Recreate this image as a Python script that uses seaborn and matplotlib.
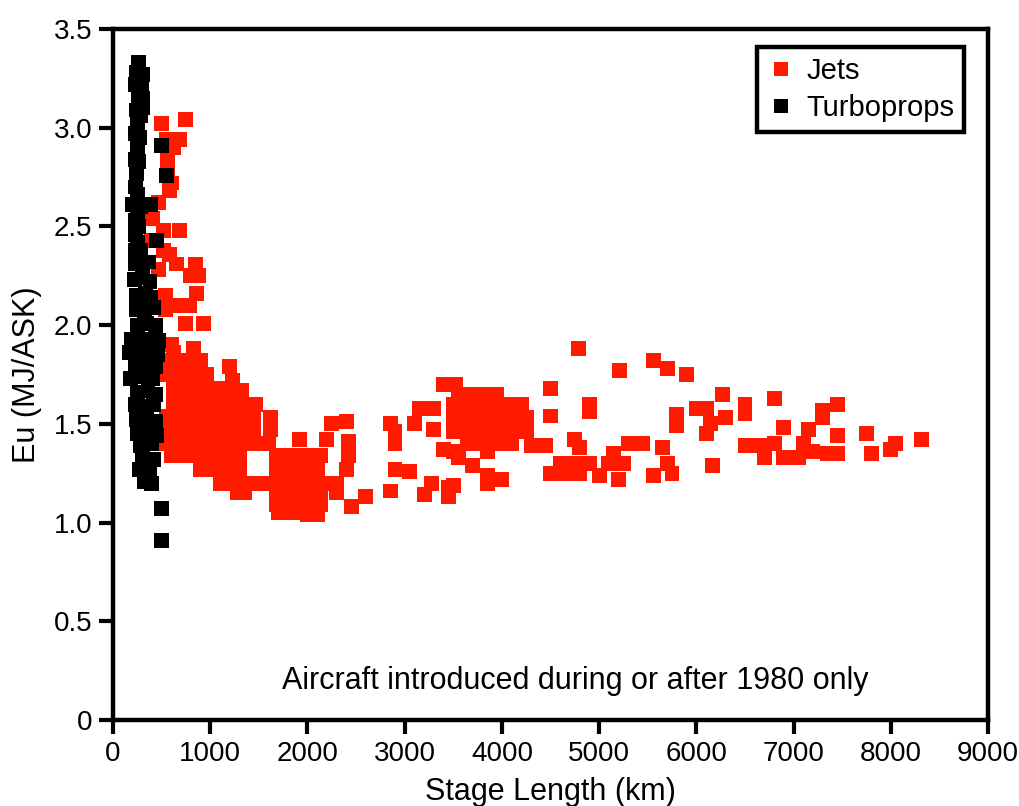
import numpy as np
import pandas as pd
import matplotlib
matplotlib.use("Agg")
import matplotlib.pyplot as plt
import seaborn as sns
from matplotlib.ticker import FuncFormatter

# Stage length (km) / energy intensity (MJ/ASK)
jets_pts = [
    # short-haul tail
    (750, 3.04), (495, 3.02), (546, 2.94), (680, 2.94), (620, 2.90), (560, 2.84),
    (560, 2.79), (600, 2.72), (580, 2.68), (470, 2.62), (410, 2.54), (520, 2.48),
    (680, 2.48), (400, 2.43), (520, 2.38), (580, 2.36), (470, 2.28), (650, 2.31),
    (850, 2.31), (800, 2.25), (880, 2.25), (540, 2.15), (860, 2.16), (540, 2.08),
    (640, 2.10), (790, 2.10), (750, 2.01), (930, 2.01), (600, 1.90), (620, 1.86),
    (830, 1.88),
    # dense block 500-2600 km
    (500, 1.82), (640, 1.82), (780, 1.82), (900, 1.82), (1200, 1.79),
    (550, 1.75), (700, 1.75), (850, 1.75), (960, 1.75), (1230, 1.72),
    (620, 1.68), (760, 1.68), (900, 1.68), (1040, 1.68), (1180, 1.68), (1320, 1.67),
    (620, 1.61), (760, 1.61), (900, 1.61), (1040, 1.61), (1180, 1.61), (1320, 1.61), (1470, 1.60),
    (550, 1.54), (700, 1.54), (850, 1.54), (1000, 1.54), (1150, 1.54), (1300, 1.54), (1450, 1.54), (1620, 1.53),
    (550, 1.47), (700, 1.47), (850, 1.47), (1000, 1.47), (1150, 1.47), (1300, 1.47), (1450, 1.47), (1620, 1.47),
    (2250, 1.50), (2400, 1.51), (1920, 1.42), (2200, 1.42), (2420, 1.41),
    (550, 1.40), (700, 1.40), (850, 1.40), (1000, 1.40), (1150, 1.40), (1300, 1.40), (1450, 1.40), (1600, 1.40),
    (600, 1.34), (750, 1.34), (900, 1.34), (1050, 1.34), (1200, 1.34), (1300, 1.34),
    (1680, 1.34), (1830, 1.34), (1980, 1.34), (2130, 1.34), (2420, 1.34),
    (900, 1.27), (1050, 1.27), (1200, 1.27), (1300, 1.27), (1680, 1.27), (1830, 1.27),
    (1980, 1.27), (2100, 1.27), (2400, 1.27),
    (1100, 1.20), (1250, 1.20), (1400, 1.20), (1550, 1.20), (1700, 1.20), (1850, 1.20),
    (2000, 1.20), (2150, 1.20), (2300, 1.20),
    (1280, 1.15), (1350, 1.15), (1680, 1.14), (1830, 1.14), (1980, 1.14), (2130, 1.14),
    (2300, 1.15), (2600, 1.13),
    (1680, 1.09), (1830, 1.09), (1980, 1.09), (2130, 1.09), (2450, 1.08),
    (1700, 1.05), (1850, 1.05), (2000, 1.04), (2100, 1.04),
    # 2800-4500 km
    (2850, 1.50), (2900, 1.46), (3100, 1.50), (3300, 1.47), (2900, 1.40), (2900, 1.27),
    (3050, 1.26), (2850, 1.16), (3200, 1.14), (3280, 1.20), (3450, 1.18), (3450, 1.13),
    (3150, 1.58), (3300, 1.58), (3400, 1.70), (3520, 1.70),
    (3550, 1.65), (3700, 1.65), (3850, 1.65), (3950, 1.65),
    (3500, 1.60), (3650, 1.60), (3800, 1.60), (3950, 1.60), (4100, 1.60), (4200, 1.60),
    (3500, 1.53), (3650, 1.53), (3800, 1.53), (3950, 1.53), (4100, 1.53), (4250, 1.53),
    (3500, 1.46), (3650, 1.46), (3800, 1.46), (3950, 1.46), (4100, 1.46), (4250, 1.46),
    (3650, 1.40), (3800, 1.40), (3950, 1.40), (4100, 1.40), (4300, 1.39), (4450, 1.39),
    (3500, 1.36), (3850, 1.36), (3700, 1.29), (3850, 1.24), (4000, 1.22), (3850, 1.20),
    (3500, 1.19), (3550, 1.33), (3400, 1.37),
    # long haul
    (4790, 1.88), (5560, 1.82), (5700, 1.78), (5210, 1.77), (5900, 1.75), (4500, 1.68),
    (6270, 1.65), (6000, 1.58), (6100, 1.58), (6500, 1.60), (6500, 1.55), (6800, 1.63),
    (7300, 1.57), (7450, 1.60), (7300, 1.53), (4900, 1.60), (4900, 1.56), (4500, 1.54),
    (5800, 1.55), (5800, 1.49), (6150, 1.50), (6300, 1.53), (6100, 1.45),
    (4750, 1.42), (4800, 1.38), (4600, 1.30), (4750, 1.30), (4900, 1.30),
    (4500, 1.25), (4650, 1.25), (4800, 1.25), (5000, 1.24), (5200, 1.22),
    (5150, 1.35), (5300, 1.40), (5450, 1.40), (5650, 1.38), (5100, 1.30), (5250, 1.30),
    (5700, 1.30), (5750, 1.25), (5560, 1.24), (6170, 1.29),
    (6500, 1.39), (6650, 1.39), (6800, 1.40), (6700, 1.33), (6900, 1.48), (6900, 1.33),
    (7050, 1.33), (7100, 1.40), (7200, 1.36), (7150, 1.47), (7350, 1.35), (7450, 1.35),
    (7450, 1.44), (7750, 1.45), (7800, 1.35), (8050, 1.40), (8000, 1.37), (8320, 1.42),
]

turbo_pts = [
    (260, 3.33), (240, 3.28), (300, 3.27), (230, 3.22), (290, 3.21), (260, 3.16),
    (300, 3.15), (240, 3.09), (300, 3.10), (280, 3.06), (250, 3.02), (230, 2.97),
    (270, 2.95), (250, 2.90), (230, 2.84), (260, 2.83), (240, 2.77), (500, 2.91),
    (550, 2.76), (230, 2.70), (250, 2.66), (200, 2.61), (280, 2.60), (390, 2.61),
    (250, 2.57), (230, 2.53), (260, 2.50), (230, 2.46), (450, 2.43), (250, 2.42),
    (230, 2.38), (280, 2.38), (230, 2.31), (300, 2.30), (370, 2.32), (220, 2.23),
    (300, 2.24), (380, 2.22), (240, 2.15), (330, 2.16), (390, 2.14), (240, 2.08),
    (320, 2.07), (420, 2.09), (250, 2.00), (350, 2.01), (440, 2.00), (190, 1.93),
    (290, 1.92), (390, 1.93), (470, 1.92), (170, 1.86), (260, 1.87), (360, 1.86),
    (460, 1.85), (230, 1.80), (330, 1.80), (440, 1.79), (180, 1.73), (280, 1.74),
    (410, 1.73), (250, 1.66), (360, 1.67), (440, 1.65), (230, 1.60), (330, 1.59),
    (420, 1.60), (240, 1.52), (340, 1.52), (440, 1.51), (250, 1.45), (370, 1.46),
    (450, 1.44), (280, 1.39), (400, 1.40), (300, 1.33), (420, 1.32), (270, 1.27),
    (380, 1.26), (320, 1.21), (400, 1.20), (500, 1.07), (500, 0.91),
]

x_ticks = [0, 1000, 2000, 3000, 4000, 5000, 6000, 7000, 8000, 9000]
y_ticks = [0, 0.5, 1.0, 1.5, 2.0, 2.5, 3.0, 3.5]

jets = pd.DataFrame(jets_pts, columns=["km", "eu"])
jets["type"] = "Jets"
turbo = pd.DataFrame(turbo_pts, columns=["km", "eu"])
turbo["type"] = "Turboprops"
df = pd.concat([jets, turbo], ignore_index=True)

sns.set_style("white")
plt.rcParams["font.family"] = ["Liberation Sans", "DejaVu Sans"]
plt.rcParams["text.color"] = "black"
plt.rcParams["axes.labelcolor"] = "black"

fig = plt.figure(figsize=(10.19, 8.06), dpi=100)
ax = fig.add_axes([0.1109, 0.1067, 0.8587, 0.8573])

sns.scatterplot(data=df, x="km", y="eu", hue="type",
                palette={"Jets": "#ff1a00", "Turboprops": "black"},
                marker="s", s=115, linewidth=0, ax=ax)

ax.set_xlim(0, 9000)
ax.set_ylim(0, 3.5)
ax.set_xticks(x_ticks)
ax.set_yticks(y_ticks)
ax.yaxis.set_major_formatter(FuncFormatter(lambda v, p: "0" if v == 0 else f"{v:.1f}"))
ax.tick_params(bottom=True, left=True, direction="out", length=10, width=3,
               labelsize=20, colors="black", pad=5)

for sp in ax.spines.values():
    sp.set_linewidth(3.2)
    sp.set_color("black")

ax.set_xlabel("Stage Length (km)", fontsize=22, labelpad=7)
ax.set_ylabel("Eu (MJ/ASK)", fontsize=22, labelpad=8)

ax.text(4750, 0.2, "Aircraft introduced during or after 1980 only",
        ha="center", va="center", fontsize=22)

leg = ax.legend(loc="upper right", bbox_to_anchor=(0.973, 0.974), fontsize=21,
                frameon=True, fancybox=False, framealpha=1, borderpad=0.35,
                handlelength=1.0, handletextpad=0.35, labelspacing=0.3,
                markerscale=1.0, borderaxespad=0)
leg.get_frame().set_edgecolor("black")
leg.get_frame().set_linewidth(3.2)
leg.set_title(None)
for t in leg.get_texts():
    t.set_color("black")

fig.savefig("out.png", dpi=100)
